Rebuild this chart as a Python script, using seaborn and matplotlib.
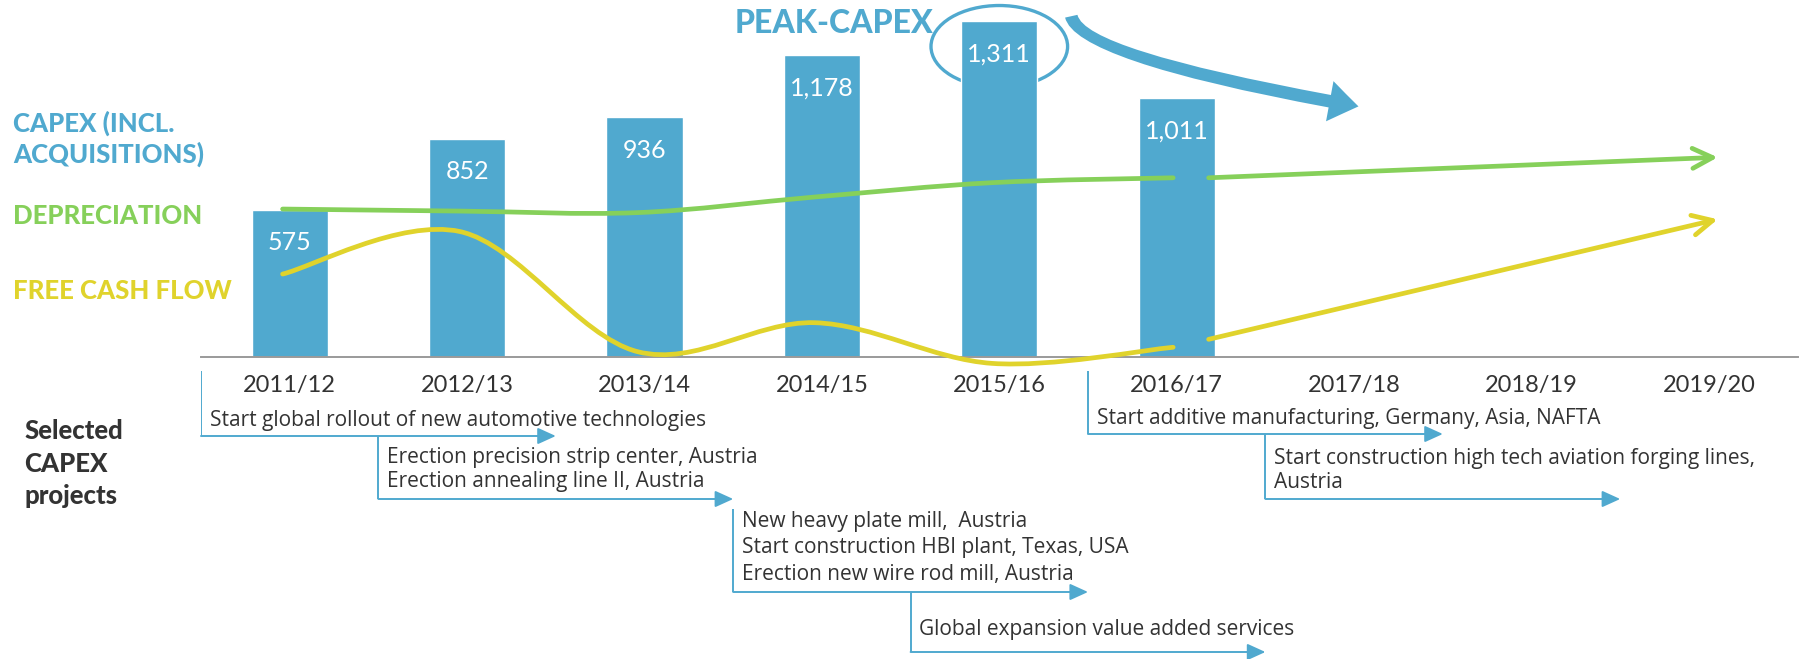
import numpy as np
import pandas as pd
import seaborn as sns
import matplotlib.pyplot as plt
from matplotlib.path import Path
from matplotlib.patches import PathPatch, Ellipse, FancyArrowPatch

# --- data ---
years = ["2011/12", "2012/13", "2013/14", "2014/15", "2015/16",
         "2016/17", "2017/18", "2018/19", "2019/20"]
capex_years = years[:6]
capex = [575, 852, 936, 1178, 1311, 1011]
depreciation = [578, 570, 564, 625, 681, 700]
free_cash_flow = [324, 490, 21, 134, -25, 38]
dep_outlook = [700, 780]      # 2016/17 -> 2019/20 trend arrow
fcf_outlook = [69, 538]

project_lines = [
    ["Start global rollout of new automotive technologies"],
    ["Erection precision strip center, Austria", "Erection annealing line II, Austria"],
    ["New heavy plate mill,  Austria", "Start construction HBI plant, Texas, USA",
     "Erection new wire rod mill, Austria"],
    ["Global expansion value added services"],
    ["Start additive manufacturing, Germany, Asia, NAFTA"],
    ["Start construction high tech aviation forging lines,", "Austria"],
]
project_start = [0, 1, 3, 4, 5, 6]   # year boundary where the project starts

BLUE = "#50a9cf"
GREEN = "#86d05a"
YELLOW = "#e0d32c"
DARK = "#333333"
GREY = "#9a9a9a"

sns.set_style("white")
plt.rcParams["font.family"] = ["Lato", "DejaVu Sans"]

W, H = 1802, 659
fig = plt.figure(figsize=(W / 100, H / 100), dpi=100)
base = 357          # pixel row of the x axis
scale = 0.256       # pixels per unit

ax = fig.add_axes([201 / W, (H - base) / H, 1596.6 / W, base / H])
df = pd.DataFrame({"year": capex_years, "capex": capex})
sns.barplot(data=df, x="year", y="capex", order=years, color=BLUE,
            saturation=1, width=0.43, errorbar=None, ax=ax, zorder=2)
ax.set_xlim(-0.5, 8.5)
ax.set_ylim(0, base / scale)
ax.set_xlabel("")
ax.set_ylabel("")
ax.set_yticks([])
for s in ["left", "top", "right"]:
    ax.spines[s].set_visible(False)
ax.spines["bottom"].set_color(GREY)
ax.spines["bottom"].set_linewidth(1.4)
ax.set_xticks(range(len(years)))
ax.set_xticklabels(years, fontsize=17, color=DARK)
ax.set_xticks(np.arange(-0.5, 9, 1), minor=True)
ax.tick_params(axis="x", which="major", length=0, pad=13)
ax.tick_params(axis="x", which="minor", length=6, width=1.4, color=GREY,
               direction="out")

for i, v in enumerate(capex):
    ax.annotate(f"{v:,}", xy=(i, v), xytext=(0, -29), textcoords="offset points",
                ha="center", va="baseline", color="white", fontsize=18, zorder=3)


def smooth_path(xs, ys):
    pts = np.column_stack([xs, ys]).astype(float)
    p = np.vstack([pts[0], pts, pts[-1]])
    verts, codes = [pts[0]], [Path.MOVETO]
    for i in range(1, len(p) - 2):
        verts += [p[i] + (p[i + 1] - p[i - 1]) / 6,
                  p[i + 1] - (p[i + 2] - p[i]) / 6,
                  p[i + 1]]
        codes += [Path.CURVE4] * 3
    return Path(verts, codes)


xs = np.arange(len(depreciation)) - 0.04
xs[-1] = len(depreciation) - 1.02
for vals, outlook, col in [(depreciation, dep_outlook, GREEN),
                           (free_cash_flow, fcf_outlook, YELLOW)]:
    ax.add_patch(PathPatch(smooth_path(xs, vals), fill=False, edgecolor=col,
                           lw=3.4, capstyle="round", zorder=4, clip_on=False))
    ax.annotate("", xy=(8.05, outlook[1]), xytext=(5.18, outlook[0]),
                arrowprops=dict(arrowstyle="->,head_length=0.72,head_width=0.36",
                                lw=3.4, color=col, mutation_scale=20,
                                shrinkA=0, shrinkB=0, capstyle="round"),
                zorder=4)

# peak capex highlight
peak = int(np.argmax(capex))
ax.add_patch(Ellipse((peak, capex[peak] - 98), 0.77, 320, fill=False,
                     edgecolor=BLUE, lw=2.4, zorder=1, clip_on=False))
ax.add_patch(FancyArrowPatch((4.404, 1342), (6.04, 977),
                             connectionstyle="angle3,angleA=90,angleB=-10",
                             arrowstyle="simple,head_length=1.5,head_width=2.1,tail_width=0.65",
                             mutation_scale=14, color=BLUE, lw=0, zorder=3,
                             clip_on=False))
fig.text(933 / W, 1 - 33 / H, "PEAK-CAPEX", ha="right", va="baseline",
         fontsize=23, fontweight=900, color=BLUE)

# left legend labels
for txt, y, col in [("CAPEX (INCL.", 131.7, BLUE), ("ACQUISITIONS)", 163, BLUE),
                    ("DEPRECIATION", 224, GREEN), ("FREE CASH FLOW", 299, YELLOW)]:
    fig.text(13 / W, 1 - y / H, txt, ha="left", va="baseline", fontsize=18.5,
             fontweight=900, color=col)

# selected capex projects timeline
ax2 = fig.add_axes([201 / W, 0, 1596.6 / W, (H - base) / H])
ax2.set_xlim(-0.5, 8.5)
ax2.set_ylim(H, base)
ax2.axis("off")
ax2.patch.set_visible(False)

for txt, y in [("Selected", 439), ("CAPEX", 471.5), ("projects", 503.5)]:
    fig.text(24 / W, 1 - y / H, txt, ha="left", va="baseline", fontsize=18.5,
             fontweight=900, color=DARK)

rows = [(371, 436), (436, 499), (509, 592), (592, 652), (371, 434), (434, 499)]
baselines = [[426], [463.3, 487.3], [527.3, 552.7, 580], [635], [424], [464, 488.3]]
for lines, start, (y0, y1), bl in zip(project_lines, project_start, rows, baselines):
    x0 = start - 0.5
    ax2.plot([x0, x0], [y0, y1], color=BLUE, lw=1.4, solid_capstyle="butt")
    ax2.annotate("", xy=(x0 + 2, y1), xytext=(x0, y1),
                 arrowprops=dict(arrowstyle="-|>,head_length=0.55,head_width=0.25",
                                 color=BLUE, lw=1.4, mutation_scale=20,
                                 shrinkA=0, shrinkB=0))
    for line, b in zip(lines, bl):
        ax2.text(x0 + 0.05, b, line, ha="left", va="baseline", fontsize=15,
                 color=DARK, family=["Open Sans", "DejaVu Sans"])

fig.savefig("out.png", dpi=100)
